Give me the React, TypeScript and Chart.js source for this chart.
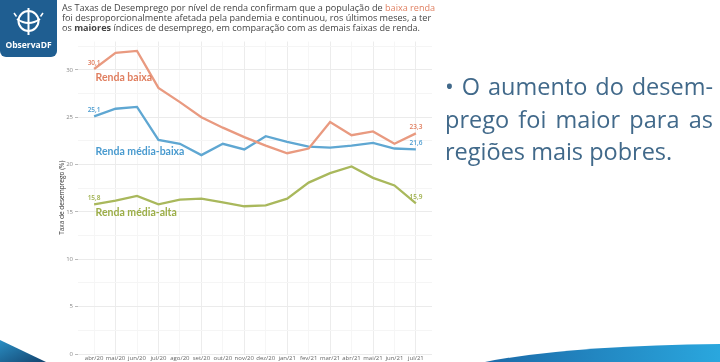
import React, { useEffect, useRef } from "react";
import { Chart, registerables } from "chart.js";

Chart.register(...registerables);

const months = ["abr/20", "mai/20", "jun/20", "jul/20", "ago/20", "set/20", "out/20", "nov/20", "dez/20", "jan/21", "fev/21", "mar/21", "abr/21", "mai/21", "jun/21", "jul/21"];
const rendaBaixa = [30.1, 31.8, 32.0, 28.1, 26.6, 25.0, 23.9, 22.9, 22.0, 21.2, 21.7, 24.5, 23.1, 23.5, 22.2, 23.3];
const rendaMediaBaixa = [25.1, 25.9, 26.1, 22.6, 22.2, 21.0, 22.2, 21.6, 23.0, 22.4, 21.9, 21.8, 22.0, 22.3, 21.7, 21.6];
const rendaMediaAlta = [15.8, 16.2, 16.7, 15.8, 16.3, 16.4, 16.0, 15.6, 15.7, 16.4, 18.1, 19.1, 19.8, 18.6, 17.8, 15.9];
const seriesNames = ["Renda baixa", "Renda média-baixa", "Renda média-alta"];
const seriesNameY = [29.2, 21.4, 14.9];
const yTicks = [0, 2.5, 5, 7.5, 10, 12.5, 15, 17.5, 20, 22.5, 25, 27.5, 30, 32.5];

const lineColors = ["#e99a80", "#5fa7d2", "#a9b85c"];
const textColors = ["#e07f60", "#4a9bcf", "#9cae48"];

const labelPlugin = {
  id: "seriesLabels",
  afterDatasetsDraw(chart: any) {
    const ctx = chart.ctx;
    const xs = chart.scales.x;
    const ys = chart.scales.y;
    const all = [rendaBaixa, rendaMediaBaixa, rendaMediaAlta];
    ctx.save();
    all.forEach((arr, si) => {
      ctx.fillStyle = textColors[si];
      ctx.font = "600 6.5px 'Open Sans'";
      ctx.textAlign = "center";
      ctx.textBaseline = "bottom";
      const first = 0;
      const last = arr.length - 1;
      [first, last].forEach((i) => {
        const px = xs.getPixelForValue(i);
        const py = ys.getPixelForValue(arr[i]);
        ctx.fillText(arr[i].toFixed(1).replace(".", ","), px, py - 3);
      });
      ctx.font = "bold 10.5px Lato";
      ctx.textAlign = "left";
      ctx.textBaseline = "middle";
      ctx.fillText(seriesNames[si], xs.getPixelForValue(0) + 1.5, ys.getPixelForValue(seriesNameY[si]));
    });
    ctx.restore();
  },
};

function ChartView() {
  const ref = useRef<HTMLCanvasElement | null>(null);
  useEffect(() => {
    if (!ref.current) return;
    const mk = (arr: number[]) => arr.map((v, i) => ({ x: i, y: v }));
    const chart = new Chart(ref.current, {
      type: "line",
      data: {
        datasets: [rendaBaixa, rendaMediaBaixa, rendaMediaAlta].map((arr, i) => ({
          label: seriesNames[i],
          data: mk(arr),
          borderColor: lineColors[i],
          backgroundColor: lineColors[i],
          borderWidth: 2.3,
          pointRadius: 0,
          tension: 0,
        })),
      },
      options: {
        animation: false,
        responsive: false,
        maintainAspectRatio: false,
        layout: { padding: { left: 0, right: 288, top: 41.5, bottom: 0 } },
        plugins: { legend: { display: false }, tooltip: { enabled: false } },
        scales: {
          x: {
            type: "linear",
            min: -0.75,
            max: 15.75,
            afterBuildTicks: (s: any) => {
              s.ticks = months.map((_, i) => ({ value: i }));
            },
            afterFit: (s: any) => {
              s.height = 8;
            },
            border: { display: false },
            grid: {
              drawTicks: false,
              color: (c: any) => (c.index % 2 === 1 ? "#ececec" : "#f6f6f6"),
              lineWidth: 1,
            },
            ticks: {
              padding: 1,
              autoSkip: false,
              maxRotation: 0,
              color: "#666",
              font: { size: 6, family: "'Open Sans'" },
              callback: (v: any) => months[Math.round(Number(v))] ?? "",
            },
          },
          y: {
            min: 0,
            max: 33,
            afterBuildTicks: (s: any) => {
              s.ticks = yTicks.map((v) => ({ value: v }));
            },
            afterFit: (s: any) => {
              s.width = 78;
            },
            border: { display: false },
            grid: {
              color: (c: any) => (c.tick && c.tick.value % 5 === 0 ? "#ebebeb" : "#f5f5f5"),
              tickColor: (c: any) => (c.tick && c.tick.value % 5 === 0 ? "#bbbbbb" : "rgba(0,0,0,0)"),
              tickLength: 3,
              lineWidth: 1,
            },
            title: {
              display: true,
              text: "Taxa de desemprego (%)",
              color: "#333",
              font: { size: 6.5, family: "'Open Sans'" },
              padding: { top: 58, bottom: 0 },
            },
            ticks: {
              padding: 2,
              color: "#888",
              font: { size: 6, family: "'Open Sans'" },
              callback: (v: any) => (Number(v) % 5 === 0 ? String(v) : ""),
            },
          },
        },
      },
      plugins: [labelPlugin],
    } as any);
    return () => chart.destroy();
  }, []);
  return <canvas ref={ref} width={720} height={362} style={{ position: "absolute", left: 0, top: 0 }} />;
}

export default function App() {
  return (
    <div style={{ position: "absolute", left: 0, top: 0, width: 720, height: 362, overflow: "hidden", background: "#fff", fontFamily: "'Open Sans', sans-serif" }}>
      <ChartView />
      <div style={{ position: "absolute", left: 0, top: 0, width: 57, height: 57, background: "#1f5e91", borderRadius: "0 0 6px 6px" }}>
        <svg width={57} height={40} style={{ position: "absolute", left: 0, top: 0 }}>
          <circle cx={28.5} cy={21} r={10} stroke="#fff" strokeWidth={2} fill="none" />
          <line x1={28.5} y1={8} x2={28.5} y2={35} stroke="#fff" strokeWidth={2} />
          <path d="M17 19 Q28.5 27 40 19" stroke="#fff" strokeWidth={2} fill="none" />
          <path d="M14 13 L16.5 16.5" stroke="#fff" strokeWidth={1.5} />
          <path d="M43 13 L40.5 16.5" stroke="#fff" strokeWidth={1.5} />
        </svg>
        <div style={{ position: "absolute", left: 0, top: 40, width: 57, textAlign: "center", color: "#fff", fontWeight: 700, fontSize: 8.5, lineHeight: "10px" }}>ObservaDF</div>
      </div>
      <div style={{ position: "absolute", left: 62, top: 2.5, width: 370, fontSize: 9.1, lineHeight: "10.4px", color: "#444", whiteSpace: "nowrap" }}>
        <div>As Taxas de Desemprego por nível de renda confirmam que a população de <span style={{ color: "#e07f60" }}>baixa renda</span></div>
        <div>foi desproporcionalmente afetada pela pandemia e continuou, ros últimos meses, a ter</div>
        <div>os <b>maiores</b> índices de desemprego, em comparação com as demais faixas de renda.</div>
      </div>
      <div style={{ position: "absolute", left: 445, top: 70, width: 268, fontSize: 23.5, lineHeight: "32.5px", color: "#41698a", fontFamily: "'Open Sans', sans-serif" }}>
        <div style={{ textAlign: "justify", textAlignLast: "justify" }}>• O aumento do desem-</div>
        <div style={{ textAlign: "justify", textAlignLast: "justify" }}>prego foi maior para as</div>
        <div>regiões mais pobres.</div>
      </div>
      <svg width={720} height={362} style={{ position: "absolute", left: 0, top: 0, pointerEvents: "none" }}>
        <defs>
          <linearGradient id="gR" x1="0" y1="0" x2="1" y2="0">
            <stop offset="0" stopColor="#1b6aa8" />
            <stop offset="1" stopColor="#2aa7de" />
          </linearGradient>
          <linearGradient id="gL" x1="0" y1="0" x2="1" y2="1">
            <stop offset="0" stopColor="#2a8fc4" />
            <stop offset="1" stopColor="#13436e" />
          </linearGradient>
        </defs>
        <path d="M0 340 L46 362 L0 362 Z" fill="url(#gL)" />
        <path d="M485 362 Q565 346 720 344 L720 362 Z" fill="url(#gR)" />
      </svg>
    </div>
  );
}
